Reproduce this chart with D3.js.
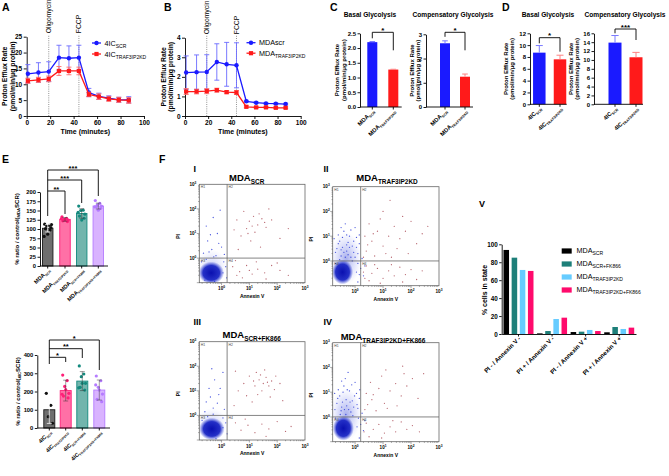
<!DOCTYPE html>
<html>
<head>
<meta charset="utf-8">
<script src="https://cdn.jsdelivr.net/npm/d3@7/dist/d3.min.js"></script>
<style>
  body { margin: 0; background: #fff; }
  svg { display: block; }
</style>
</head>
<body>
<script>
// ---- values ----

// A / B : proton efflux time course
var timePts = [1, 10, 18.8, 27.5, 36, 44.5, 53, 61.5, 70, 78.5, 87];
var injections = [{t: 18.8, name: "Oligomycin"}, {t: 44.5, name: "FCCP"}];
var a4icScr    = [13.3, 13.7, 14.0, 18.4, 18.2, 18.4, 7.4, 6.2, 5.65, 5.1, 5.1];
var a4icScrErr = [2.9, 3.1, 3.1, 3.9, 3.9, 3.9, 1.3, 1.0, 0.7, 0.8, 1.0];
var a4icKd     = [11.1, 11.4, 11.7, 14.2, 14.2, 14.2, 6.8, 6.1, 5.4, 5.1, 4.9];
var a4icKdErr  = [0.8, 0.8, 0.9, 1.4, 1.2, 1.2, 0.7, 0.9, 0.8, 0.8, 0.9];
var bMdaScr    = [2.22, 2.24, 2.25, 2.76, 2.64, 2.59, 0.75, 0.68, 0.64, 0.63, 0.61];
var bMdaScrErr = [0.85, 0.88, 0.88, 0.93, 1.12, 1.15, 0.05, 0.04, 0.04, 0.04, 0.04];
var bMdaKd     = [1.25, 1.25, 1.27, 1.32, 1.22, 1.2, 0.47, 0.44, 0.44, 0.42, 0.42];
var bMdaKdErr  = [0.15, 0.12, 0.13, 0.1, 0.08, 0.1, 0.05, 0.04, 0.04, 0.04, 0.04];

// C / D : glycolysis bars (scr, kd)
var cBasal = [2.2, 1.27],  cBasalErr = [0.02, 0.01];
var cComp  = [2.63, 1.25], cCompErr  = [0.1, 0.11];
var dBasal = [8.73, 7.6],  dBasalErr = [1.2, 0.7];
var dComp  = [13.9, 10.6], dCompErr  = [1.6, 1.1];

// E : % ratio / control
var eMdaMean = [102, 126, 142, 162];
var eMdaErr  = [10, 5, 13, 8];
var eMdaDots = [
  [113, 110, 108, 104, 101, 97, 86, 80, 112],
  [133, 129, 126, 124, 122, 120, 124, 128],
  [162, 151, 150, 140, 135, 129, 124, 145],
  [177, 169, 165, 162, 160, 156, 151, 160]
];
var eIcMean = [100, 205, 257, 208];
var eIcErr  = [75, 57, 52, 55];
var eIcDots = [
  [190, 124, 62, 26],
  [290, 260, 228, 190, 175, 165, 210, 185],
  [340, 296, 281, 245, 223, 208, 245, 220],
  [285, 259, 223, 186, 157, 144, 208, 236]
];

// F : flow cytometry (log10 Annexin V, log10 PI)
var flowCore = [
  {x: -0.37, y: -0.6, rx: 0.46, ry: 0.46},
  {x: -0.45, y: -0.45, rx: 0.38, ry: 0.5},
  {x: -0.35, y: -0.55, rx: 0.46, ry: 0.46},
  {x: -0.42, y: -0.46, rx: 0.38, ry: 0.5}
];
var flowHalo = [
  {x: -0.35, y: -0.35, rx: 0.55, ry: 0.7},
  {x: -0.32, y: 0.1, rx: 0.55, ry: 1.05},
  {x: -0.35, y: -0.35, rx: 0.55, ry: 0.65},
  {x: -0.32, y: 0.1, rx: 0.55, ry: 1.05}
];
var flowBlueI = [[-0.35,0.35],[-0.5,0.7],[-0.15,1.0],[-0.55,1.3],[-0.3,1.65],[-0.05,1.95],[0.0,0.45],[-0.65,0.2],[-0.4,0.95],[0.1,0.15],[-0.2,0.1],[0.15,-0.35],[0.18,-0.8],[-0.72,-0.15],[-0.1,0.6],[-0.45,0.25],[0.05,-0.6],[-0.25,-0.95],[-0.6,-0.9],[-0.28,0.05],[0.08,-0.15],[-0.55,-0.05]];
var flowRedI = [[0.55,1.55],[0.8,1.9],[1.0,1.5],[1.15,1.7],[1.3,1.35],[1.45,1.6],[0.9,1.2],[1.2,1.05],[1.6,1.25],[0.7,0.9],[1.05,0.7],[1.8,1.55],[2.1,0.8],[1.4,0.45],[0.6,0.35],[1.7,2.0],[2.4,1.2],[0.45,1.15],[1.1,1.3],[1.35,1.8],[0.95,1.0],[1.55,1.45],
  [0.4,-0.35],[0.65,-0.55],[0.9,-0.3],[1.1,-0.65],[1.3,-0.45],[1.55,-0.6],[1.8,-0.3],[2.1,-0.5],[0.75,-0.8],[1.25,-0.15],[2.4,-0.7],[0.5,-0.1],[1.6,-0.85],[2.0,-0.2],[0.55,-0.7],[1.0,-0.5]];
var flowBlueII = [[-0.5,0.2],[-0.3,0.4],[-0.1,0.6],[-0.55,0.8],[-0.2,1.0],[-0.4,1.2],[0.0,1.35],[-0.65,0.5],[0.1,0.3],[-0.15,0.15],[0.15,0.7],[-0.35,1.5],[-0.6,1.05],[0.05,0.95],[0.2,-0.3],[0.3,-0.6],[0.25,0.1],[-0.7,-0.1],[0.35,-0.2],[0.1,-0.85],[-0.45,0.55],[-0.25,0.75],[-0.05,0.35],
  [-0.7,0.35],[-0.5,0.45],[-0.35,0.15],[-0.2,0.55],[-0.05,0.8],[-0.45,0.95],[-0.3,1.05],[-0.6,0.7],[-0.15,1.25],[0.05,0.55],[-0.4,0.35],[-0.25,0.25],[-0.1,0.0],[0.1,-0.1],[0.05,-0.45],[-0.55,0.05],[-0.75,0.9],[0.15,1.05],[-0.3,0.65],[-0.5,1.35],[0.0,0.15],[0.15,-0.55]];
var flowRedII = [[0.4,0.4],[0.6,0.8],[0.8,1.2],[1.0,0.6],[1.2,1.0],[1.4,1.4],[1.6,0.9],[1.8,1.2],[2.0,1.6],[0.5,1.5],[0.7,0.2],[0.9,1.7],[1.1,0.3],[1.3,0.15],[1.5,0.5],[1.7,1.8],[2.2,0.7],[2.4,1.1],[0.35,1.0],[1.9,0.3],[1.0,2.0],[2.6,1.4],[1.25,2.45],[0.45,0.65],[0.65,1.1],[0.3,0.15],
  [0.4,-0.2],[0.6,-0.5],[0.8,-0.3],[1.0,-0.7],[1.2,-0.4],[1.4,-0.6],[1.6,-0.25],[1.8,-0.55],[2.0,-0.35],[2.2,-0.75],[0.5,-0.8],[0.9,-0.9],[1.3,-0.15],[1.7,-0.85],[2.4,-0.4],[0.3,-0.45],[0.35,-0.7],[0.7,-0.15]];
var flowBlueIII = [[-0.3,0.3],[-0.55,0.55],[-0.1,0.85],[-0.45,1.1],[-0.25,1.45],[0.05,1.75],[-0.6,0.15],[0.1,0.25],[-0.15,0.5],[-0.4,0.75],[0.15,-0.3],[0.2,-0.75],[-0.7,-0.2],[-0.05,1.1],[-0.35,1.9],[0.05,-0.5],[-0.2,-0.95],[-0.3,0.05],[0.05,-0.1],[-0.5,-0.05]];
var flowRedIII = [[0.8,1.3],[1.0,1.6],[1.2,1.2],[1.35,1.45],[1.5,1.3],[1.6,1.55],[1.7,1.2],[1.45,1.0],[1.25,1.75],[1.8,1.4],[1.9,1.05],[0.6,1.0],[0.9,0.8],[1.1,0.55],[2.1,1.3],[0.5,1.8],[1.55,1.85],[1.3,0.85],[2.2,0.6],[0.45,0.4],[1.75,0.75],[1.4,1.65],[1.65,1.35],[1.15,1.4],[1.95,1.6],
  [0.5,-0.3],[0.7,-0.6],[0.95,-0.4],[1.2,-0.7],[1.45,-0.35],[1.7,-0.55],[2.0,-0.25],[2.3,-0.65],[0.85,-0.15],[1.6,-0.85],[2.5,-0.45]];
var flowBlueIV = [[-0.5,0.25],[-0.3,0.45],[-0.1,0.65],[-0.55,0.85],[-0.2,1.05],[-0.4,1.25],[0.0,1.4],[-0.65,0.55],[0.1,0.35],[-0.15,0.2],[0.15,0.75],[-0.35,1.55],[-0.6,1.1],[0.05,0.95],[0.2,-0.3],[0.3,-0.55],[0.25,0.15],[-0.7,-0.05],[0.35,-0.15],[0.15,-0.85],[-0.45,0.6],[-0.25,1.8],[-0.05,0.4],
  [-0.72,0.3],[-0.48,0.4],[-0.33,0.1],[-0.18,0.6],[-0.02,0.85],[-0.43,1.0],[-0.28,1.1],[-0.62,0.75],[-0.12,1.3],[0.07,0.5],[-0.38,0.3],[-0.23,0.3],[-0.08,0.05],[0.12,-0.05],[0.07,-0.4],[-0.53,0.1],[-0.73,0.95],[0.17,1.1],[-0.32,0.7],[-0.48,1.45]];
var flowRedIV = [[0.45,0.5],[0.65,0.9],[0.85,1.15],[1.05,0.55],[1.25,1.05],[1.45,1.35],[1.65,0.85],[1.85,1.25],[2.05,1.55],[0.55,1.4],[0.75,0.25],[0.95,1.65],[1.15,0.35],[1.5,0.45],[1.75,1.75],[2.25,0.75],[2.45,1.75],[0.4,0.95],[1.1,1.9],[1.7,2.05],[0.35,0.3],[0.6,0.7],
  [0.4,-0.25],[0.65,-0.5],[0.85,-0.3],[1.05,-0.65],[1.25,-0.4],[1.45,-0.6],[1.65,-0.2],[1.85,-0.5],[2.05,-0.35],[0.5,-0.8],[0.95,-0.85],[1.35,-0.15],[2.3,-0.6],[0.32,-0.6]];

// V : % cells in state
var flowStates = ["PI - / Annexin V -", "PI + / Annexin V -", "PI - / Annexin V +", "PI + / Annexin V +"];
var vScr   = [93.7, 0.7, 2.2, 1.9];
var vScrFk = [85.1, 3.3, 2.6, 7.8];
var vKd    = [71.4, 16.7, 4.5, 5.6];
var vKdFk  = [70.3, 18.2, 3.3, 7.1];

// ---- drawing ----
var BLUE = "#1a1aff", RED = "#ff1a1a";
var svg = d3.select("body").append("svg")
    .attr("width", 669).attr("height", 476)
    .attr("font-family", "'Liberation Sans', Arial, Helvetica, sans-serif");
var defs = svg.append("defs");

var cg = defs.append("radialGradient").attr("id", "coreGrad");
cg.append("stop").attr("offset", "0%").attr("stop-color", "#0a10b0").attr("stop-opacity", 1);
cg.append("stop").attr("offset", "65%").attr("stop-color", "#1a26c4").attr("stop-opacity", 0.95);
cg.append("stop").attr("offset", "100%").attr("stop-color", "#3344d8").attr("stop-opacity", 0);
var hg = defs.append("radialGradient").attr("id", "haloGrad");
hg.append("stop").attr("offset", "0%").attr("stop-color", "#2a3ad4").attr("stop-opacity", 0.8);
hg.append("stop").attr("offset", "100%").attr("stop-color", "#5566ee").attr("stop-opacity", 0);

// text with subscripts: parts = ["MDA", {sub: "SCR"}, ")"]
function rich(t, parts, fs, ratio) {
  ratio = ratio || 0.7;
  var low = false;
  parts.forEach(function(p) {
    var isSub = typeof p !== "string";
    var sp = t.append("tspan").text(isSub ? p.sub : p);
    if (isSub) {
      sp.attr("font-size", fs * ratio);
      if (!low) sp.attr("dy", fs * 0.28);
      low = true;
    } else if (low) {
      sp.attr("dy", -fs * 0.28);
      low = false;
    }
  });
  return t;
}

function styleAxis(g, fs) {
  g.attr("font-size", fs).attr("font-family", null).attr("font-weight", "bold");
  g.selectAll(".domain, .tick line").attr("stroke", "#000").attr("stroke-width", 0.9);
  g.selectAll(".tick text").attr("fill", "#000");
  return g;
}

function yTitle(anchors, yc, lines, fs) {
  lines.forEach(function(parts, i) {
    var t = svg.append("text")
      .attr("transform", "translate(" + anchors[i] + "," + yc + ") rotate(-90)")
      .attr("text-anchor", "middle").attr("font-size", fs).attr("font-weight", "bold");
    rich(t, typeof parts === "string" ? [parts] : parts, fs);
  });
}

function rotLabel(x, y, parts, fs, ratio) {
  var t = svg.append("text")
    .attr("transform", "translate(" + x + "," + y + ") rotate(-45)")
    .attr("text-anchor", "end").attr("font-size", fs).attr("font-weight", "bold");
  rich(t, parts, fs, ratio);
}

function marker(g, shape, cx, cy, col) {
  if (shape === "circle") {
    g.append("circle").attr("cx", cx).attr("cy", cy).attr("r", 2.2).attr("fill", col);
  } else {
    g.append("rect").attr("x", cx - 2.1).attr("y", cy - 2.1).attr("width", 4.2).attr("height", 4.2).attr("fill", col);
  }
}

// panel letters
[["A", 2, 11], ["B", 164, 11], ["C", 330, 11], ["D", 502, 11], ["E", 2, 163], ["F", 159, 163]].forEach(function(l) {
  svg.append("text").attr("x", l[1]).attr("y", l[2]).attr("font-size", 10.5)
    .attr("font-weight", "bold").text(l[0]);
});

// ---------- A & B ----------
function lineChart(o) {
  var x = d3.scaleLinear().domain([0, 100]).range([o.left, o.right]);
  var y = d3.scaleLinear().domain([0, o.ymax]).range([o.bottom, o.top]);

  injections.forEach(function(inj) {
    svg.append("line").attr("x1", x(inj.t)).attr("x2", x(inj.t))
      .attr("y1", o.bottom).attr("y2", o.top - 2)
      .attr("stroke", "#777").attr("stroke-width", 0.8).attr("stroke-dasharray", "1,1.2");
    svg.append("text")
      .attr("transform", "translate(" + (x(inj.t) + 2.4) + "," + (o.top - 3.5) + ") rotate(-90)")
      .attr("font-size", 6.8).text(inj.name);
  });

  styleAxis(svg.append("g").attr("transform", "translate(0," + o.bottom + ")")
    .call(d3.axisBottom(x).tickValues(d3.range(0, 101, 20)).tickSize(3).tickSizeOuter(0).tickPadding(1.5)), 6.5);
  styleAxis(svg.append("g").attr("transform", "translate(" + o.left + ",0)")
    .call(d3.axisLeft(y).tickValues(d3.range(0, o.ymax + 0.01, o.ystep)).tickFormat(d3.format("d"))
      .tickSize(3).tickSizeOuter(0).tickPadding(1.5)), 6.5);

  o.series.forEach(function(s, k) {
    var g = svg.append("g");
    var pts = timePts.map(function(t, i) { return {t: t, v: s.vals[i], e: s.err[i]}; });
    g.selectAll(".eb").data(pts).enter().append("path")
      .attr("d", function(d) {
        var X = x(d.t), lo = y(d.v - d.e), hi = y(d.v + d.e);
        return "M" + X + "," + lo + "V" + hi + "M" + (X - 2.5) + "," + hi + "H" + (X + 2.5) +
               "M" + (X - 2.5) + "," + lo + "H" + (X + 2.5);
      })
      .attr("stroke", s.errColor).attr("stroke-width", 0.9).attr("fill", "none");
    g.append("path").datum(pts)
      .attr("d", d3.line().x(function(d) { return x(d.t); }).y(function(d) { return y(d.v); }))
      .attr("stroke", s.color).attr("stroke-width", 1.3).attr("fill", "none");
    pts.forEach(function(d) { marker(g, s.shape, x(d.t), y(d.v), s.color); });

    var ly = o.legY + k * o.legGap;
    g.append("line").attr("x1", o.legX).attr("x2", o.legX + 9).attr("y1", ly).attr("y2", ly)
      .attr("stroke", s.color).attr("stroke-width", 1.3);
    marker(g, s.shape, o.legX + 4.5, ly, s.color);
    rich(g.append("text").attr("x", o.legX + 12.5).attr("y", ly + 2.5).attr("font-size", 7.2), s.label, 7.2);
  });

  svg.append("text").attr("x", (o.left + o.right) / 2).attr("y", 133.5)
    .attr("text-anchor", "middle").attr("font-size", 7).attr("font-weight", "bold").text("Time (minutes)");
  yTitle(o.titleX, (o.top + o.bottom) / 2, ["Proton Efflux Rate", "(pmol/min/\u03bcg protein)"], 6.8);
}

lineChart({
  left: 26.7, right: 144, top: 36.7, bottom: 116, ymax: 25, ystep: 5,
  legX: 92, legY: 43, legGap: 11, titleX: [7.3, 14.6],
  series: [
    {vals: a4icScr, err: a4icScrErr, color: BLUE, errColor: "#6b6bff", shape: "circle", label: ["4IC", {sub: "SCR"}]},
    {vals: a4icKd, err: a4icKdErr, color: RED, errColor: "#ff6b6b", shape: "square", label: ["4IC", {sub: "TRAF3IP2KD"}]}
  ]
});
lineChart({
  left: 185, right: 300.7, top: 37.7, bottom: 116, ymax: 4, ystep: 1,
  legX: 246.5, legY: 42.7, legGap: 10.5, titleX: [166, 173],
  series: [
    {vals: bMdaScr, err: bMdaScrErr, color: BLUE, errColor: "#6b6bff", shape: "circle", label: ["MDAscr"]},
    {vals: bMdaKd, err: bMdaKdErr, color: RED, errColor: "#ff6b6b", shape: "square", label: ["MDA", {sub: "TRAF3IP2KD"}]}
  ]
});

// ---------- C & D ----------
function barPair(o) {
  var y = d3.scaleLinear().domain([0, o.ymax]).range([o.bottom, o.top]);
  var fills = [BLUE, RED], errs = ["#7a7aff", "#ff8080"];
  o.vals.forEach(function(v, i) {
    var cx = o.centers[i];
    svg.append("rect").attr("x", cx - o.bw / 2).attr("width", o.bw)
      .attr("y", y(v)).attr("height", o.bottom - y(v)).attr("fill", fills[i]);
    var top = y(v + o.err[i]);
    svg.append("path")
      .attr("d", "M" + cx + "," + y(v) + "V" + top + "M" + (cx - o.bw * 0.28) + "," + top + "H" + (cx + o.bw * 0.28))
      .attr("stroke", errs[i]).attr("stroke-width", 1).attr("fill", "none");
    svg.append("line").attr("x1", cx).attr("x2", cx).attr("y1", o.bottom).attr("y2", o.bottom + 2.5)
      .attr("stroke", "#000").attr("stroke-width", 0.9);
    rotLabel(cx + 2.5, o.bottom + 4.5, [o.group, {sub: o.subs[i]}], 5.8, 0.62);
  });
  styleAxis(svg.append("g").attr("transform", "translate(" + o.left + ",0)")
    .call(d3.axisLeft(y).tickValues(d3.range(0, o.ymax + 0.001, o.ystep)).tickFormat(d3.format(o.fmt))
      .tickSize(2.5).tickSizeOuter(0).tickPadding(1.5)), 6);
  svg.append("line").attr("x1", o.left).attr("x2", o.right).attr("y1", o.bottom).attr("y2", o.bottom)
    .attr("stroke", "#000").attr("stroke-width", 0.9);
  // significance bracket
  var b = o.bracket, x0 = o.centers[0], x1 = o.centers[1];
  svg.append("path")
    .attr("d", "M" + x0 + "," + (b.y + b.legL) + "V" + b.y + "H" + x1 + "V" + (b.y + b.legR))
    .attr("stroke", "#000").attr("stroke-width", 0.9).attr("fill", "none");
  svg.append("text").attr("x", (x0 + x1) / 2).attr("y", b.y + 0.5).attr("text-anchor", "middle")
    .attr("font-size", 8).attr("font-weight", "bold").text(b.stars);
  svg.append("text").attr("x", o.titleCx).attr("y", 17).attr("text-anchor", "middle")
    .attr("font-size", 6.6).attr("font-weight", "bold").text(o.title);
  yTitle(o.titleX, (o.top + o.bottom) / 2, ["Proton Efflux Rate", "(pmol/min/\u03bcg protein)"], 6);
}

barPair({left: 360, right: 401.7, top: 33.3, bottom: 107, ymax: 2.5, ystep: 0.5, fmt: ".1f",
  centers: [372.3, 393.3], bw: 10, vals: cBasal, err: cBasalErr, group: "MDA", subs: ["SCR", "TRAF3IP2KD"],
  bracket: {y: 32.3, legL: 6, legR: 18, stars: "*"}, title: "Basal Glycolysis", titleCx: 370, titleX: [338.5, 345.5]});
barPair({left: 426, right: 473, top: 34.3, bottom: 107, ymax: 3, ystep: 1, fmt: "d",
  centers: [445, 465], bw: 10, vals: cComp, err: cCompErr, group: "MDA", subs: ["SCR", "TRAF3IP2KD"],
  bracket: {y: 32.3, legL: 4.5, legR: 18, stars: "*"}, title: "Compensatory Glycolysis", titleCx: 453, titleX: [414, 420]});
barPair({left: 530, right: 566.7, top: 33.3, bottom: 104.3, ymax: 12, ystep: 2, fmt: "d",
  centers: [539.3, 560], bw: 12.5, vals: dBasal, err: dBasalErr, group: "4IC", subs: ["SCR", "TRAF3IP2KD"],
  bracket: {y: 37.7, legL: 5.6, legR: 14, stars: "*"}, title: "Basal Glycolysis", titleCx: 548, titleX: [507.5, 513.5]});
barPair({left: 594, right: 643, top: 33.3, bottom: 104.3, ymax: 16, ystep: 2, fmt: "d",
  centers: [615, 636], bw: 13, vals: dComp, err: dCompErr, group: "4IC", subs: ["SCR", "TRAF3IP2KD"],
  bracket: {y: 29, legL: 4.3, legR: 11, stars: "***"}, title: "Compensatory Glycolysis", titleCx: 625, titleX: [572.5, 578.5]});

// ---------- E ----------
var eStyles = [
  {fill: "#6e6e6e", line: "#1a1a1a", dot: "#111111"},
  {fill: "#ff70a6", line: "#ff1f78", dot: "#ff1f78"},
  {fill: "#72b5ad", line: "#138a7e", dot: "#138a7e"},
  {fill: "#d9b3ff", line: "#b57cff", dot: "#b57cff"}
];
var jitter = [-3, 1.5, -1, 3.2, -2.2, 2.4, 0, -3.6, 3.8];

function dotBars(o) {
  var y = d3.scaleLinear().domain([0, o.ymax]).range([o.bottom, o.top]);
  o.mean.forEach(function(v, i) {
    var cx = o.centers[i], st = eStyles[i];
    svg.append("rect").attr("x", cx - o.bw / 2).attr("width", o.bw)
      .attr("y", y(v)).attr("height", o.bottom - y(v))
      .attr("fill", st.fill).attr("stroke", st.line).attr("stroke-width", 0.9);
    o.dots[i].forEach(function(d, j) {
      svg.append("circle").attr("cx", cx + jitter[j % jitter.length]).attr("cy", y(d)).attr("r", 1.6)
        .attr("fill", st.dot);
    });
    var lo = y(v - o.err[i]), hi = y(v + o.err[i]);
    svg.append("path")
      .attr("d", "M" + cx + "," + lo + "V" + hi + "M" + (cx - 2.5) + "," + hi + "H" + (cx + 2.5) +
                 "M" + (cx - 2.5) + "," + lo + "H" + (cx + 2.5))
      .attr("stroke", i === 0 ? "#fff" : "#333").attr("stroke-opacity", i === 0 ? 0.9 : 0.6)
      .attr("stroke-width", 0.8).attr("fill", "none");
    svg.append("line").attr("x1", cx).attr("x2", cx).attr("y1", o.bottom).attr("y2", o.bottom + 2.5)
      .attr("stroke", "#000").attr("stroke-width", 0.9);
    rotLabel(cx + 2.5, o.bottom + 4.5, [o.group, {sub: o.subs[i]}], 5.6, 0.58);
  });
  styleAxis(svg.append("g").attr("transform", "translate(" + o.left + ",0)")
    .call(d3.axisLeft(y).tickValues(d3.range(0, o.ymax + 0.001, o.ystep))
      .tickSize(2.5).tickSizeOuter(0).tickPadding(1.5)), 5.8);
  svg.append("line").attr("x1", o.left).attr("x2", o.right).attr("y1", o.bottom).attr("y2", o.bottom)
    .attr("stroke", "#000").attr("stroke-width", 0.9);
  var x0 = o.centers[0];
  svg.append("line").attr("x1", x0).attr("x2", x0).attr("y1", d3.min(o.brackets, function(b) { return b.y; }))
    .attr("y2", o.leftEnd).attr("stroke", "#000").attr("stroke-width", 0.9);
  o.brackets.forEach(function(b) {
    var x1 = o.centers[b.to];
    svg.append("path").attr("d", "M" + x0 + "," + b.y + "H" + x1 + "V" + b.end)
      .attr("stroke", "#000").attr("stroke-width", 0.9).attr("fill", "none");
    svg.append("text").attr("x", (x0 + x1) / 2).attr("y", b.y + 0.5).attr("text-anchor", "middle")
      .attr("font-size", 7.5).attr("font-weight", "bold").text(b.stars);
  });
  yTitle([o.titleX], (o.top + o.bottom) / 2, [["% ratio / control(", {sub: o.ctrl[0]}, o.ctrl[1]]], 6);
}

var eSubsMda = ["SCR", "TRAF3IP2KD", "SCR+FK866", "TRAF3IP2KD+FK866"];
dotBars({left: 40, right: 108, top: 192, bottom: 266, ymax: 200, ystep: 25,
  centers: [47.7, 65, 81.7, 98.3], bw: 10.5, mean: eMdaMean, err: eMdaErr, dots: eMdaDots,
  group: "MDA", subs: eSubsMda, leftEnd: 216,
  brackets: [{to: 1, y: 191, end: 214, stars: "**"}, {to: 2, y: 180, end: 203, stars: "***"}, {to: 3, y: 170, end: 196, stars: "***"}],
  titleX: 18.5, ctrl: ["MDA", "SCR)"]});
dotBars({left: 37.3, right: 110, top: 355, bottom: 428, ymax: 400, ystep: 100,
  centers: [49.3, 65.7, 82.3, 99.3], bw: 11, mean: eIcMean, err: eIcErr, dots: eIcDots,
  group: "4IC", subs: eSubsMda, leftEnd: 364,
  brackets: [{to: 1, y: 357.3, end: 362, stars: "*"}, {to: 2, y: 348.7, end: 358, stars: "**"}, {to: 3, y: 340, end: 370, stars: "*"}],
  titleX: 19.5, ctrl: ["4IC", "SCR)"]});

// ---------- F : flow plots ----------
var flowBoxes = [
  {key: "I",   x: 199.3, y: 184.3, w: 105.7, h: 98.4, tx: 246.7, ty: 181, title: ["MDA", {sub: "SCR"}], rx: 193.5, ry: 171.5, haloOp: 0.3},
  {key: "II",  x: 332.7, y: 186.7, w: 106.3, h: 99,   tx: 387,   ty: 181, title: ["MDA", {sub: "TRAF3IP2KD"}], rx: 323.5, ry: 172, haloOp: 0.5},
  {key: "III", x: 199.3, y: 341.7, w: 105.7, h: 98.3, tx: 251.7, ty: 338, title: ["MDA", {sub: "SCR+FK866"}], rx: 193.5, ry: 325, haloOp: 0.3},
  {key: "IV",  x: 332.7, y: 342.7, w: 106.3, h: 99,   tx: 383,   ty: 340, title: ["MDA", {sub: "TRAF3IP2KD+FK866"}], rx: 323.5, ry: 325, haloOp: 0.5}
];
var flowBlue = [flowBlueI, flowBlueII, flowBlueIII, flowBlueIV];
var flowRed = [flowRedI, flowRedII, flowRedIII, flowRedIV];

function sup(t, base, exp, fs) {
  t.append("tspan").text(base);
  t.append("tspan").attr("font-size", fs * 0.7).attr("dy", -fs * 0.4).text(exp);
}

flowBoxes.forEach(function(o, k) {
  var x = d3.scaleLinear().domain([-0.8, 3]).range([o.x, o.x + o.w]);
  var y = d3.scaleLinear().domain([-1, 3]).range([o.y + o.h, o.y]);
  var kx = x(1) - x(0), ky = y(0) - y(1);
  defs.append("clipPath").attr("id", "clip" + o.key).append("rect")
    .attr("x", o.x).attr("y", o.y).attr("width", o.w).attr("height", o.h);
  var g = svg.append("g").attr("clip-path", "url(#clip" + o.key + ")");
  var hl = flowHalo[k], cr = flowCore[k];
  g.append("ellipse").attr("cx", x(hl.x)).attr("cy", y(hl.y)).attr("rx", hl.rx * kx).attr("ry", hl.ry * ky)
    .attr("fill", "url(#haloGrad)").attr("opacity", o.haloOp);
  g.append("ellipse").attr("cx", x(cr.x)).attr("cy", y(cr.y)).attr("rx", cr.rx * kx).attr("ry", cr.ry * ky)
    .attr("fill", "url(#coreGrad)");
  g.selectAll(".bd").data(flowBlue[k]).enter().append("circle")
    .attr("cx", function(d) { return x(d[0]); }).attr("cy", function(d) { return y(d[1]); })
    .attr("r", 0.65).attr("fill", "#2a3ad8").attr("opacity", 0.85);
  g.selectAll(".rd").data(flowRed[k]).enter().append("circle")
    .attr("cx", function(d) { return x(d[0]); }).attr("cy", function(d) { return y(d[1]); })
    .attr("r", 0.65).attr("fill", "#a8424e").attr("opacity", 0.8);

  // frame and quadrant gates
  svg.append("rect").attr("x", o.x).attr("y", o.y).attr("width", o.w).attr("height", o.h)
    .attr("fill", "none").attr("stroke", "#666").attr("stroke-width", 0.8);
  svg.append("line").attr("x1", x(0.2)).attr("x2", x(0.2)).attr("y1", o.y).attr("y2", o.y + o.h)
    .attr("stroke", "#666").attr("stroke-width", 0.8);
  svg.append("line").attr("x1", o.x).attr("x2", o.x + o.w).attr("y1", y(0)).attr("y2", y(0))
    .attr("stroke", "#666").attr("stroke-width", 0.8);
  [["H1", o.x + 1.5, o.y + 4], ["H2", x(0.2) + 1.5, o.y + 4], ["H3", o.x + 1.5, y(0) + 4], ["H4", x(0.2) + 1.5, y(0) + 4]]
    .forEach(function(q) {
      svg.append("text").attr("x", q[1]).attr("y", q[2]).attr("font-size", 3.4).attr("fill", "#444").text(q[0]);
    });

  // log ticks
  for (var dec = -1; dec < 3; dec++) {
    for (var m = 1; m < 10; m++) {
      var v = dec + Math.log10(m), major = m === 1;
      if (v >= -0.8) {
        svg.append("line").attr("x1", x(v)).attr("x2", x(v)).attr("y1", o.y + o.h).attr("y2", o.y + o.h + (major ? 2.5 : 1.2))
          .attr("stroke", "#555").attr("stroke-width", 0.5);
      }
      svg.append("line").attr("x1", o.x).attr("x2", o.x - (major ? 2.5 : 1.2)).attr("y1", y(v)).attr("y2", y(v))
        .attr("stroke", "#555").attr("stroke-width", 0.5);
    }
  }
  [0, 1, 2, 3].forEach(function(e) {
    sup(svg.append("text").attr("x", x(e)).attr("y", o.y + o.h + 7.5).attr("text-anchor", "middle")
      .attr("font-size", 4.6).attr("font-weight", "bold"), "10", String(e), 4.6);
    sup(svg.append("text").attr("x", o.x - 3).attr("y", y(e) + 1.6).attr("text-anchor", "end")
      .attr("font-size", 4.6).attr("font-weight", "bold"), "10", String(e), 4.6);
  });
  svg.append("text").attr("transform", "translate(" + (o.x - 19.5) + "," + (o.y + o.h / 2 + 3) + ") rotate(-90)")
    .attr("text-anchor", "middle").attr("font-size", 5).attr("font-weight", "bold").text("PI");
  svg.append("text").attr("x", o.x + o.w / 2).attr("y", o.y + o.h + 15).attr("text-anchor", "middle")
    .attr("font-size", 5).attr("font-weight", "bold").text("Annexin V");

  rich(svg.append("text").attr("x", o.tx).attr("y", o.ty).attr("text-anchor", "middle")
    .attr("font-size", 9.5).attr("font-weight", "bold"), o.title, 9.5, 0.68);
  svg.append("text").attr("x", o.rx).attr("y", o.ry).attr("font-size", 9)
    .attr("font-weight", "bold").text(o.key);
});

// ---------- V ----------
svg.append("text").attr("x", 479).attr("y", 206.5).attr("font-size", 9).attr("font-weight", "bold").text("V");
var vSeries = [
  {vals: vScr, color: "#000000", label: ["MDA", {sub: "SCR"}]},
  {vals: vScrFk, color: "#1d7f79", label: ["MDA", {sub: "SCR+FK866"}]},
  {vals: vKd, color: "#66ccff", label: ["MDA", {sub: "TRAF3IP2KD"}]},
  {vals: vKdFk, color: "#ff0a6c", label: ["MDA", {sub: "TRAF3IP2KD+FK866"}]}
];
var vx = d3.scaleBand().domain(flowStates).range([501.7, 636]);
var vInner = d3.scaleBand().domain(d3.range(4)).range([-15, 15]).paddingInner(0.32);
var vy = d3.scaleLinear().domain([0, 100]).range([334, 244.3]);
vSeries.forEach(function(s, k) {
  svg.append("g").selectAll("rect").data(s.vals).enter().append("rect")
    .attr("x", function(d, i) { return vx(flowStates[i]) + vx.bandwidth() / 2 + vInner(k); })
    .attr("width", vInner.bandwidth())
    .attr("y", function(d) { return vy(d); })
    .attr("height", function(d) { return 334 - vy(d); })
    .attr("fill", s.color);
  var ly = 251 + k * 13;
  svg.append("rect").attr("x", 561.7).attr("y", ly - 2.6).attr("width", 10).attr("height", 5.2).attr("fill", s.color);
  rich(svg.append("text").attr("x", 576.5).attr("y", ly + 2.4).attr("font-size", 7.2), s.label, 7.2, 0.7);
});
styleAxis(svg.append("g").attr("transform", "translate(501.7,0)")
  .call(d3.axisLeft(vy).tickValues(d3.range(0, 101, 20)).tickSize(2.5).tickSizeOuter(0).tickPadding(1.5)), 6.3);
var vxAxis = svg.append("g").attr("transform", "translate(0,334)")
  .call(d3.axisBottom(vx).tickSize(2.5).tickSizeOuter(0).tickFormat(""));
styleAxis(vxAxis, 6);
flowStates.forEach(function(st) {
  rotLabel(vx(st) + vx.bandwidth() / 2 + 2.5, 339, [st], 6.2);
});
yTitle([486.5], 290, ["% cells in state"], 7);
</script>
</body>
</html>
